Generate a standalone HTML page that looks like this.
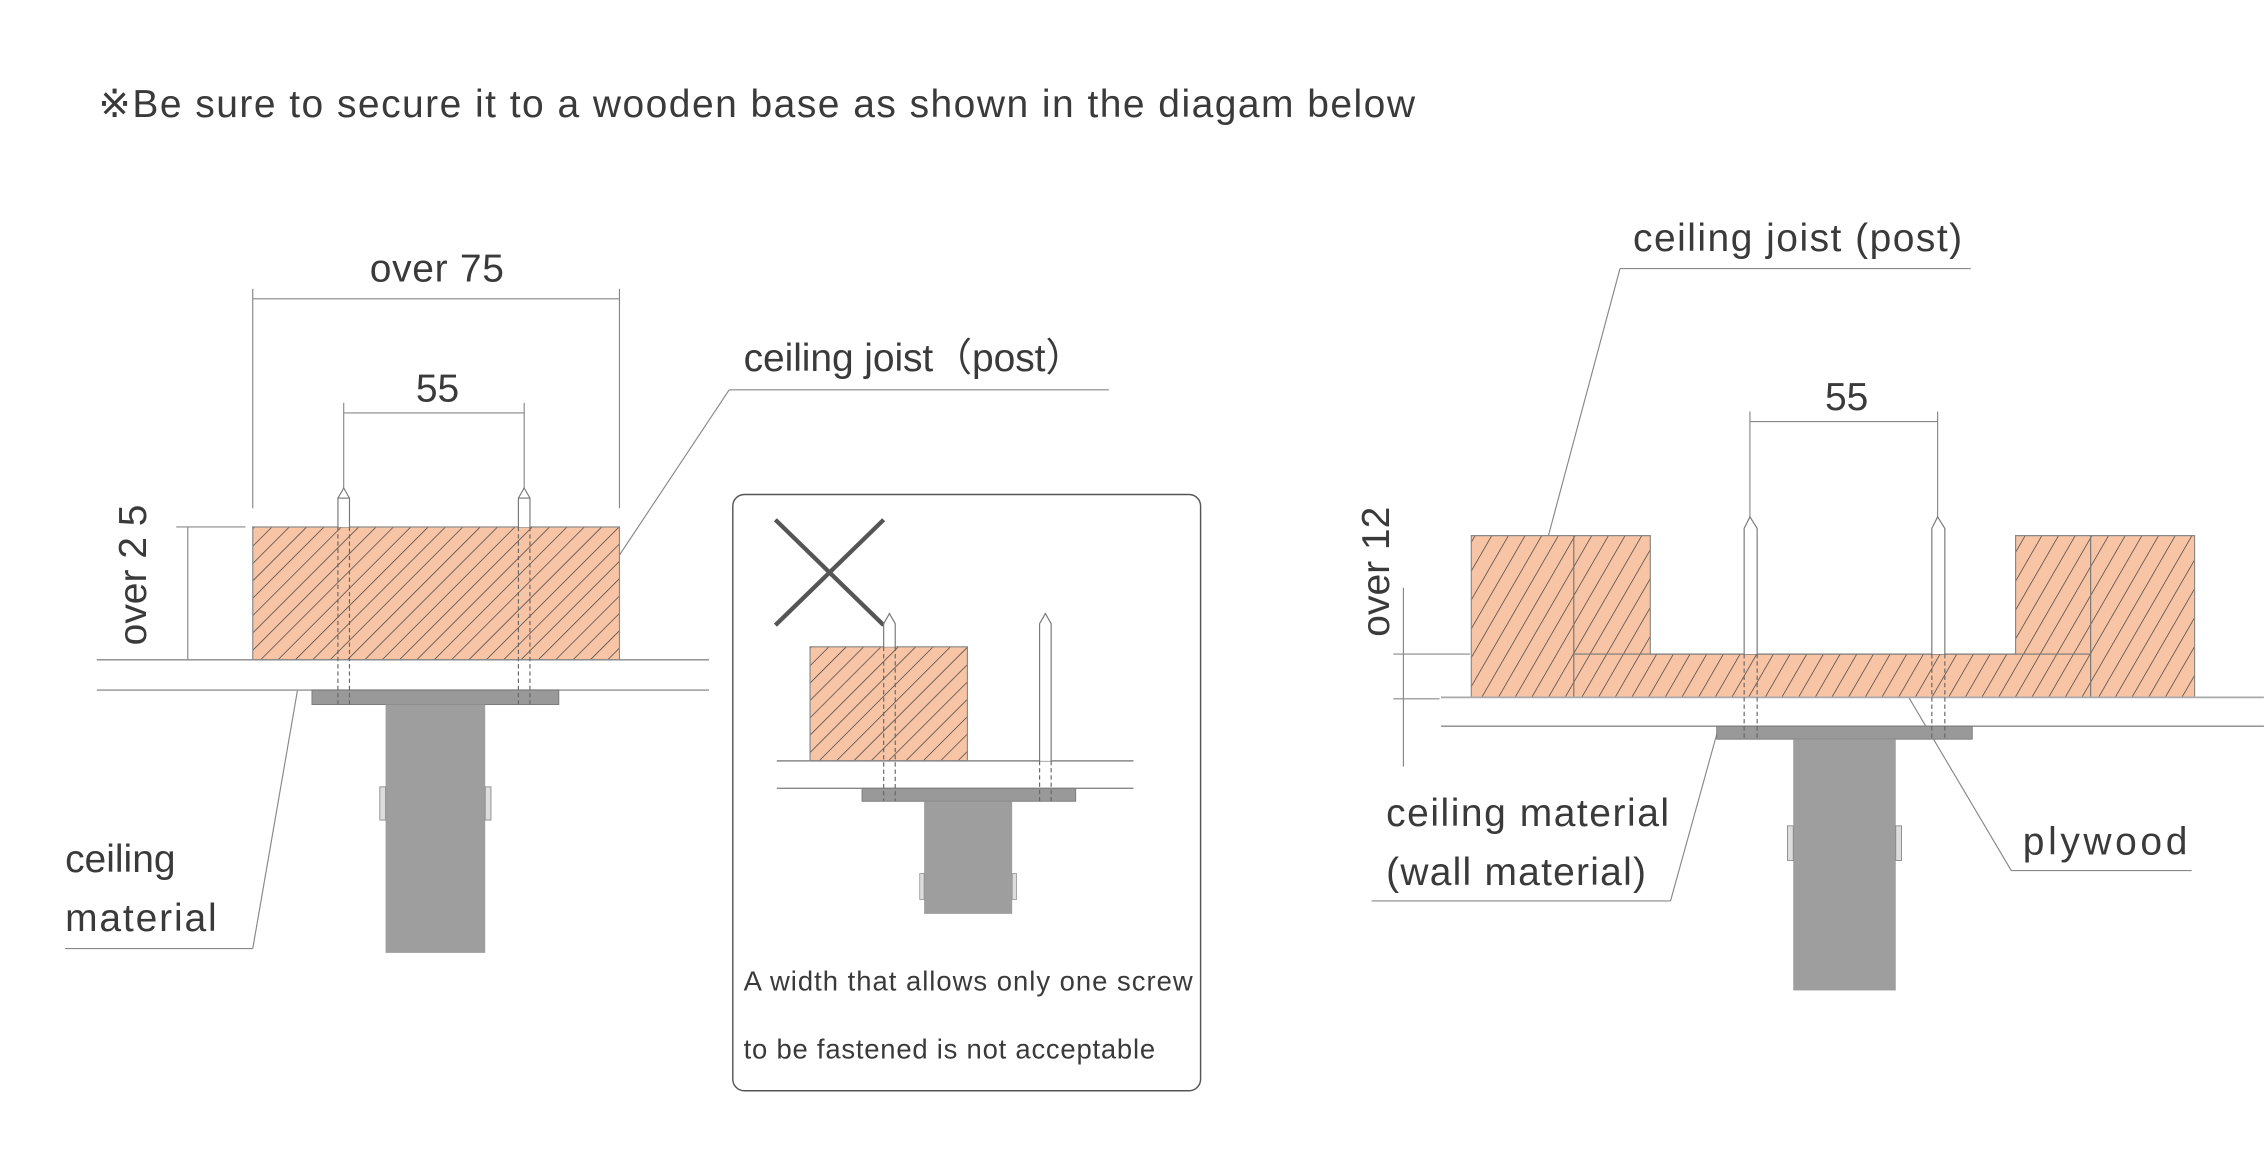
<!DOCTYPE html>
<html><head><meta charset="utf-8"><style>
html,body{margin:0;padding:0;background:#fff;}
svg{display:block;}
text{font-family:"Liberation Sans","DejaVu Sans",sans-serif;fill:#3a3a3a;}
</style></head><body>
<svg width="2264" height="1168" viewBox="0 0 1568 809" xmlns="http://www.w3.org/2000/svg">
<defs>
<pattern id="h1" width="8.5" height="8.5" patternUnits="userSpaceOnUse" patternTransform="rotate(45)">
<rect width="8.5" height="8.5" fill="#f7c4a5"/><line x1="0" y1="0" x2="0" y2="8.5" stroke="#333" stroke-width="0.9"/></pattern>
<pattern id="h2" width="10" height="10" patternUnits="userSpaceOnUse" patternTransform="rotate(30)">
<rect width="10" height="10" fill="#f7c4a5"/><line x1="0" y1="0" x2="0" y2="10" stroke="#333" stroke-width="0.9"/></pattern>
</defs>

<text x="68" y="81" font-size="27" textLength="912" lengthAdjust="spacing">※Be sure to secure it to a wooden base as shown in the diagam below</text>

<!-- LEFT -->
<g stroke="#888" stroke-width="0.8" fill="none">
<line x1="175" y1="200" x2="175" y2="352"/><line x1="429" y1="200" x2="429" y2="352"/>
<line x1="175" y1="207" x2="429" y2="207"/>
<line x1="238" y1="279" x2="238" y2="340"/><line x1="363" y1="279" x2="363" y2="340"/>
<line x1="238" y1="286" x2="363" y2="286"/>
<line x1="122" y1="365" x2="170" y2="365"/><line x1="130" y1="365" x2="130" y2="457"/>
<line x1="505" y1="270" x2="768" y2="270"/><line x1="505" y1="270" x2="420" y2="398"/>
<line x1="45" y1="657" x2="175" y2="657"/><line x1="175" y1="657" x2="206" y2="478"/>
</g>
<rect x="175" y="365" width="254" height="92" fill="url(#h1)" stroke="#888" stroke-width="0.8"/>
<line x1="67" y1="457" x2="491" y2="457" stroke="#888" stroke-width="1"/>
<line x1="67" y1="478" x2="491" y2="478" stroke="#aaa" stroke-width="1.2"/>
<rect x="216" y="478" width="171" height="10" fill="#999" stroke="#777" stroke-width="0.6"/>
<rect x="267" y="488" width="69" height="172" fill="#9e9e9e"/>
<rect x="263" y="545" width="4" height="23" fill="#ddd" stroke="#888" stroke-width="0.6"/>
<rect x="336" y="545" width="4" height="23" fill="#ddd" stroke="#888" stroke-width="0.6"/>
<g stroke="#777" stroke-width="0.8" fill="#fff">
<path d="M234 365V345L238 338L242 345V365"/><path d="M359 365V345L363 338L367 345V365"/>
<line x1="234" y1="345" x2="242" y2="345"/><line x1="359" y1="345" x2="367" y2="345"/>
</g>
<g stroke="#666" stroke-width="0.8" stroke-dasharray="3,2">
<line x1="234" y1="365" x2="234" y2="488"/><line x1="242" y1="365" x2="242" y2="488"/>
<line x1="359" y1="365" x2="359" y2="488"/><line x1="367" y1="365" x2="367" y2="488"/>
</g>
<text x="256" y="195" font-size="27" textLength="93" lengthAdjust="spacing">over 75</text>
<text x="303" y="278" font-size="27" text-anchor="middle">55</text>
<text transform="translate(101,447) rotate(-90)" font-size="27">over  2 5</text>
<text x="515" y="257" font-size="27" textLength="236" lengthAdjust="spacing">ceiling joist（post）</text>
<text x="45" y="604" font-size="27">ceiling</text>
<text x="45" y="645" font-size="27" textLength="105" lengthAdjust="spacing">material</text>

<!-- MIDDLE -->
<rect x="507.5" y="342.5" width="324" height="413" rx="8" fill="none" stroke="#555" stroke-width="1"/>
<g stroke="#555" stroke-width="3"><line x1="537" y1="360" x2="612" y2="433"/><line x1="612" y1="360" x2="537" y2="433"/></g>
<rect x="561" y="448" width="109" height="79" fill="url(#h1)" stroke="#888" stroke-width="0.8"/>
<line x1="538" y1="527" x2="785" y2="527" stroke="#888"/>
<line x1="538" y1="546" x2="785" y2="546" stroke="#888"/>
<rect x="597" y="546" width="148" height="9" fill="#999" stroke="#777" stroke-width="0.6"/>
<rect x="640" y="555" width="61" height="78" fill="#9e9e9e"/>
<rect x="637" y="605" width="3" height="18" fill="#ddd" stroke="#888" stroke-width="0.5"/>
<rect x="701" y="605" width="3" height="18" fill="#ddd" stroke="#888" stroke-width="0.5"/>
<g stroke="#777" stroke-width="0.8" fill="#fff">
<path d="M612 448V432L616 425L620 432V448"/><path d="M720 527V432L724 425L728 432V527"/>
</g>
<g stroke="#666" stroke-width="0.8" stroke-dasharray="3,2">
<line x1="612" y1="448" x2="612" y2="555"/><line x1="620" y1="448" x2="620" y2="555"/>
<line x1="720" y1="527" x2="720" y2="555"/><line x1="728" y1="527" x2="728" y2="555"/>
</g>
<text x="515" y="686" font-size="19" textLength="311" lengthAdjust="spacing">A width that allows only one screw</text>
<text x="515" y="733" font-size="19" textLength="285" lengthAdjust="spacing">to be fastened is not acceptable</text>

<!-- RIGHT -->
<g stroke="#888" stroke-width="0.8" fill="none">
<line x1="1122" y1="186" x2="1365" y2="186"/><line x1="1122" y1="186" x2="1066" y2="395"/>
<line x1="1212" y1="285" x2="1212" y2="358"/><line x1="1342" y1="285" x2="1342" y2="358"/>
<line x1="1212" y1="292" x2="1342" y2="292"/>
<line x1="972" y1="407" x2="972" y2="531"/>
<line x1="965" y1="453" x2="1018" y2="453"/><line x1="965" y1="484" x2="997" y2="484"/>
<line x1="950" y1="624" x2="1157" y2="624"/><line x1="1157" y1="624" x2="1190" y2="505"/>
<line x1="1393" y1="603" x2="1518" y2="603"/><line x1="1393" y1="603" x2="1322" y2="483"/>
</g>
<path d="M1019 371H1143V453H1396V371H1520V483H1019Z" fill="url(#h2)" stroke="#888" stroke-width="0.8"/>
<g stroke="#777" stroke-width="0.8" fill="none">
<line x1="1090" y1="371" x2="1090" y2="483"/><line x1="1090" y1="453" x2="1448" y2="453"/>
<line x1="1448" y1="371" x2="1448" y2="483"/>
</g>
<line x1="998" y1="483" x2="1568" y2="483" stroke="#aaa" stroke-width="1.2"/>
<line x1="998" y1="503" x2="1568" y2="503" stroke="#888" stroke-width="1"/>
<rect x="1189" y="503" width="177" height="9" fill="#999" stroke="#777" stroke-width="0.6"/>
<rect x="1242" y="512" width="71" height="174" fill="#9e9e9e"/>
<rect x="1238" y="572" width="4" height="24" fill="#ddd" stroke="#888" stroke-width="0.6"/>
<rect x="1313" y="572" width="4" height="24" fill="#ddd" stroke="#888" stroke-width="0.6"/>
<g stroke="#777" stroke-width="0.8" fill="#fff">
<path d="M1208 453V366L1212 358L1217 366V453"/><path d="M1338 453V366L1342 358L1347 366V453"/>
</g>
<g stroke="#666" stroke-width="0.8" stroke-dasharray="3,2">
<line x1="1208" y1="453" x2="1208" y2="512"/><line x1="1217" y1="453" x2="1217" y2="512"/>
<line x1="1338" y1="453" x2="1338" y2="512"/><line x1="1347" y1="453" x2="1347" y2="512"/>
</g>
<text x="1131" y="174" font-size="27" textLength="228" lengthAdjust="spacing">ceiling joist (post)</text>
<text x="1279" y="284" font-size="27" text-anchor="middle">55</text>
<text transform="translate(962,441) rotate(-90)" font-size="27">over 12</text>
<text x="960" y="572" font-size="27" textLength="196" lengthAdjust="spacing">ceiling material</text>
<text x="960" y="613" font-size="27" textLength="180" lengthAdjust="spacing">(wall material)</text>
<text x="1401" y="592" font-size="27" textLength="114" lengthAdjust="spacing">plywood</text>
</svg>
</body></html>
